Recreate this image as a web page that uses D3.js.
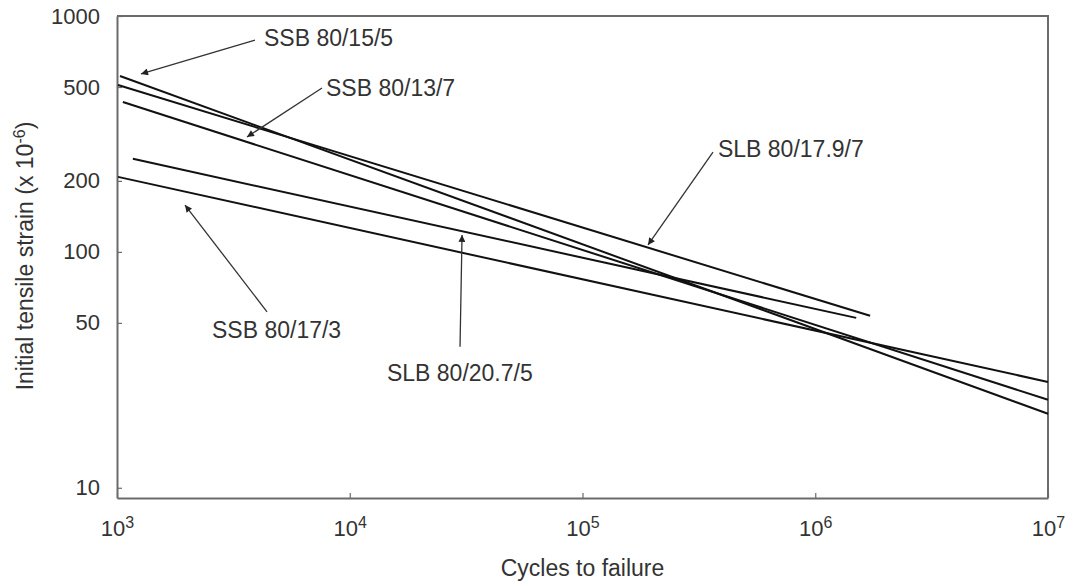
<!DOCTYPE html>
<html>
<head>
<meta charset="utf-8">
<script src="https://cdn.jsdelivr.net/npm/d3@7/dist/d3.min.js"></script>
<style>
  html, body { margin: 0; padding: 0; background: #fff; }
  svg { display: block; font-family: "Liberation Sans", Arial, sans-serif; }
</style>
</head>
<body>
<svg id="chart" width="1081" height="586"></svg>
<script>
// Fatigue lines: initial tensile strain vs. cycles to failure (log-log)
const seriesNames = ["SSB 80/15/5", "SSB 80/13/7", "SSB 80/17/3", "SLB 80/17.9/7", "SLB 80/20.7/5"];
const startCycles = [1030, 1060, 1010, 1010, 1170];
const startStrain = [557, 432, 208, 510, 248];
const endCycles   = [1e7, 1e7, 1e7, 1.72e6, 1.5e6];
const endStrain   = [20.6, 23.6, 28.1, 53.6, 52.5];

// Callouts (in data units): label start, arrow tail, arrow tip
const labelCycles = [4281, 7907, 2560, 382000, 14450];
const labelStrain = [746, 458, 43.2, 253, 28.4];
const tailCycles  = [3916, 7600, 4411, 363700, 29770];
const tailStrain  = [791, 495, 55.7, 265, 39.6];
const tipCycles   = [1268, 3618, 1960, 191200, 30370];
const tipStrain   = [568, 307, 158, 107, 118];

const xTickExps = [3, 4, 5, 6, 7];
const yTickValues = [1000, 500, 200, 100, 50, 10];

const svg = d3.select("#chart");
const plot = { left: 117, right: 1048, top: 16, bottom: 498 };

const x = d3.scaleLog().domain([1e3, 1e7]).range([plot.left, plot.right]);
const y = d3.scaleLog().domain([9.05, 1000]).range([plot.bottom, plot.top]);

const axisColor = "#6b6b6b";
const textColor = "#333";
const fontFamily = "'Liberation Sans', Arial, sans-serif";

// Frame (top and right edges)
svg.append("path")
  .attr("d", `M${plot.left},${plot.top}H${plot.right}V${plot.bottom}`)
  .attr("fill", "none")
  .attr("stroke", axisColor)
  .attr("stroke-width", 2);

// X axis
const xAxis = svg.append("g")
  .attr("transform", `translate(0,${plot.bottom})`)
  .call(d3.axisBottom(x)
    .tickValues(xTickExps.map(e => Math.pow(10, e)))
    .tickSizeInner(-5)
    .tickSizeOuter(0)
    .tickPadding(14));
xAxis.select(".domain").attr("stroke", axisColor).attr("stroke-width", 2);
xAxis.selectAll(".tick line").attr("stroke", axisColor).attr("stroke-width", 1.2);
xAxis.selectAll(".tick text").each(function(d) {
  const t = d3.select(this).text(null)
    .attr("fill", textColor)
    .attr("font-size", 22)
    .attr("font-family", fontFamily)
    .attr("dy", "1.1em");
  t.append("tspan").text("10");
  t.append("tspan").text(Math.round(Math.log10(d)))
    .attr("font-size", 16)
    .attr("dy", "-0.5em");
});

// Y axis
const yAxis = svg.append("g")
  .attr("transform", `translate(${plot.left},0)`)
  .call(d3.axisLeft(y)
    .tickValues(yTickValues)
    .tickFormat(d3.format("d"))
    .tickSizeInner(-5)
    .tickSizeOuter(0)
    .tickPadding(17));
yAxis.select(".domain").attr("stroke", axisColor).attr("stroke-width", 2);
yAxis.selectAll(".tick line").attr("stroke", axisColor).attr("stroke-width", 1.2);
yAxis.selectAll(".tick text")
  .attr("fill", textColor)
  .attr("font-size", 22)
  .attr("font-family", fontFamily);

// Axis titles
svg.append("text")
  .attr("x", (plot.left + plot.right) / 2)
  .attr("y", 576)
  .attr("text-anchor", "middle")
  .attr("font-size", 23)
  .attr("fill", textColor)
  .text("Cycles to failure");

const yTitle = svg.append("text")
  .attr("transform", `translate(33,256) rotate(-90)`)
  .attr("text-anchor", "middle")
  .attr("font-size", 23)
  .attr("fill", textColor);
yTitle.append("tspan").text("Initial tensile strain (x 10");
yTitle.append("tspan").text("-6").attr("font-size", 16).attr("dy", "-0.5em");
yTitle.append("tspan").text(")").attr("dy", "0.35em");

// Fatigue lines
const lines = seriesNames.map((name, i) => ({
  name,
  pts: [[startCycles[i], startStrain[i]], [endCycles[i], endStrain[i]]]
}));
const lineGen = d3.line().x(d => x(d[0])).y(d => y(d[1]));
svg.append("g")
  .selectAll("path")
  .data(lines)
  .join("path")
  .attr("d", d => lineGen(d.pts))
  .attr("fill", "none")
  .attr("stroke", "#111")
  .attr("stroke-width", 2);

// Arrowhead marker
svg.append("defs").append("marker")
  .attr("id", "arrow")
  .attr("viewBox", "0 0 10 10")
  .attr("refX", 10)
  .attr("refY", 5)
  .attr("markerWidth", 9)
  .attr("markerHeight", 7)
  .attr("markerUnits", "userSpaceOnUse")
  .attr("orient", "auto")
  .append("path")
  .attr("d", "M0,0L10,5L0,10z")
  .attr("fill", "#222");

// Callout arrows and labels
const callouts = seriesNames.map((name, i) => ({
  name,
  label: [labelCycles[i], labelStrain[i]],
  tail: [tailCycles[i], tailStrain[i]],
  tip: [tipCycles[i], tipStrain[i]]
}));
const cg = svg.append("g");
cg.selectAll("line")
  .data(callouts)
  .join("line")
  .attr("x1", d => x(d.tail[0]))
  .attr("y1", d => y(d.tail[1]))
  .attr("x2", d => x(d.tip[0]))
  .attr("y2", d => y(d.tip[1]))
  .attr("stroke", "#333")
  .attr("stroke-width", 1.3)
  .attr("marker-end", "url(#arrow)");
cg.selectAll("text")
  .data(callouts)
  .join("text")
  .attr("x", d => x(d.label[0]))
  .attr("y", d => y(d.label[1]))
  .attr("font-size", 23)
  .attr("fill", textColor)
  .text(d => d.name);
</script>
</body>
</html>
